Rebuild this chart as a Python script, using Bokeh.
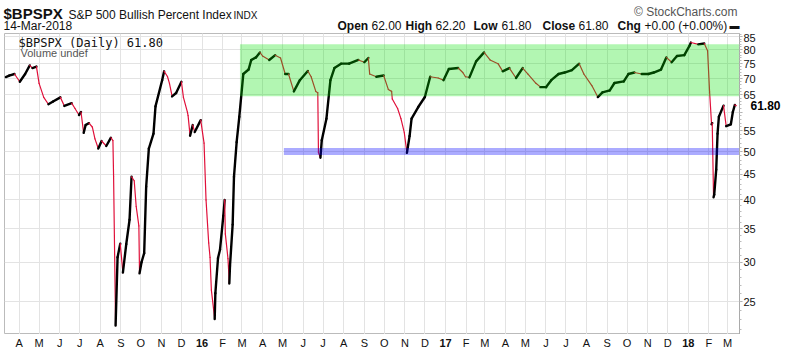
import pandas as pd
from bokeh.plotting import figure
from bokeh.layouts import column
from bokeh.models import (Range1d, FixedTicker, PrintfTickFormatter, Label, ColumnDataSource,
                          LogAxis, Grid)
from bokeh.core.properties import value
from bokeh.embed import file_html
from bokeh.resources import INLINE

# ---------------- data ----------------
dates = [
    "2015-03-12", "2015-03-17", "2015-03-25", "2015-04-02", "2015-04-10", "2015-04-17", "2015-04-21",
    "2015-04-27", "2015-05-01", "2015-05-08", "2015-05-15", "2015-05-22", "2015-06-02", "2015-06-08",
    "2015-06-19", "2015-06-24", "2015-06-30", "2015-07-03", "2015-07-07", "2015-07-10", "2015-07-15",
    "2015-07-20", "2015-07-24", "2015-07-29", "2015-08-03", "2015-08-10", "2015-08-17", "2015-08-20",
    "2015-08-21", "2015-08-24", "2015-08-27", "2015-08-31", "2015-09-04", "2015-09-09", "2015-09-14",
    "2015-09-17", "2015-09-21", "2015-09-24", "2015-09-28", "2015-09-29", "2015-10-02", "2015-10-06",
    "2015-10-09", "2015-10-13", "2015-10-20", "2015-10-23", "2015-11-02", "2015-11-05", "2015-11-10",
    "2015-11-13", "2015-11-17", "2015-11-23", "2015-12-01", "2015-12-04", "2015-12-10", "2015-12-11",
    "2015-12-14", "2015-12-18", "2015-12-21", "2015-12-30",
    "2016-01-04", "2016-01-07", "2016-01-11", "2016-01-13", "2016-01-15", "2016-01-20", "2016-01-21",
    "2016-01-25", "2016-01-28", "2016-02-02", "2016-02-04", "2016-02-05", "2016-02-09", "2016-02-11",
    "2016-02-12", "2016-02-16", "2016-02-18", "2016-02-22", "2016-02-26", "2016-03-03", "2016-03-11",
    "2016-03-15", "2016-03-22", "2016-03-28", "2016-04-01", "2016-04-11", "2016-04-20", "2016-04-28",
    "2016-05-05", "2016-05-10", "2016-05-18", "2016-05-27", "2016-06-08", "2016-06-13", "2016-06-20",
    "2016-06-23", "2016-06-24", "2016-06-27", "2016-06-29", "2016-07-06", "2016-07-12", "2016-07-18",
    "2016-07-28", "2016-08-09", "2016-08-23", "2016-09-01", "2016-09-07", "2016-09-09", "2016-09-19",
    "2016-09-30", "2016-10-07", "2016-10-12", "2016-10-13", "2016-10-21", "2016-10-26", "2016-10-31",
    "2016-11-04", "2016-11-08", "2016-11-11", "2016-11-21", "2016-12-01", "2016-12-09", "2016-12-21",
    "2016-12-29",
    "2017-01-06", "2017-01-20", "2017-01-27", "2017-01-31", "2017-02-06", "2017-02-16", "2017-02-28",
    "2017-03-09", "2017-03-21", "2017-03-28", "2017-04-07", "2017-04-17", "2017-04-27", "2017-05-05",
    "2017-05-17", "2017-05-24", "2017-06-01", "2017-06-09", "2017-06-20", "2017-06-29", "2017-07-10",
    "2017-07-21", "2017-07-28", "2017-08-09", "2017-08-18", "2017-08-25", "2017-09-05", "2017-09-12",
    "2017-09-26", "2017-10-03", "2017-10-12", "2017-10-23", "2017-11-02", "2017-11-10", "2017-11-21",
    "2017-11-29", "2017-12-07", "2017-12-15", "2017-12-26",
    "2018-01-03", "2018-01-05", "2018-01-16", "2018-01-25", "2018-01-30", "2018-02-02", "2018-02-05",
    "2018-02-06", "2018-02-08", "2018-02-09", "2018-02-12", "2018-02-14", "2018-02-16", "2018-02-23",
    "2018-02-27", "2018-03-06", "2018-03-09", "2018-03-12", "2018-03-14",
]
values = [
    70.5, 71.0, 71.5, 69.0, 71.5, 74.4, 73.5,
    74.0, 68.5, 64.2, 62.2, 63.0, 64.2, 61.7,
    62.5, 61.0, 59.2, 60.0, 54.5, 56.5, 57.0,
    56.0, 53.0, 50.7, 52.5, 51.3, 53.3, 52.6,
    44.6, 22.4, 30.7, 32.7, 28.6, 32.6, 36.5,
    44.5, 43.7, 38.8, 35.5, 28.5, 30.0, 31.3,
    42.5, 50.7, 54.3, 61.6, 69.5, 72.4, 70.7,
    68.5, 64.5, 65.5, 69.0, 64.2, 60.0, 59.0,
    53.8, 56.5, 54.7, 57.8,
    52.0, 40.0, 32.8, 30.7, 26.4, 23.1, 26.0,
    30.6, 31.8, 37.2, 40.0, 34.2, 30.5, 27.2,
    29.5, 35.7, 44.5, 52.2, 58.7, 71.5, 73.0,
    76.3, 77.2, 79.0, 77.7, 76.3, 78.0, 77.0,
    71.5, 71.5, 66.0, 69.5, 72.5, 70.6, 66.0,
    65.6, 49.8, 48.6, 52.7, 58.2, 69.5, 73.5,
    75.0, 75.0, 76.3, 75.5, 77.0, 71.5, 70.6,
    71.0, 66.6, 66.0, 63.7, 61.0, 58.2, 54.6,
    49.7, 53.7, 58.2, 61.4, 64.3, 70.6, 70.2,
    69.5,
    73.2, 73.5, 72.0, 70.6, 70.4, 75.8, 79.0,
    76.3, 75.0, 72.4, 73.5, 70.2, 73.5, 71.5,
    68.5, 67.3, 67.3, 69.5, 71.5, 72.0, 72.8,
    75.0, 71.5, 67.8, 64.3, 65.7, 66.3, 68.6,
    69.1, 71.5, 72.0, 71.5, 71.5, 72.0, 73.0,
    77.2, 75.5, 77.7, 78.0,
    81.5, 82.7, 82.0, 82.3, 79.6, 66.0, 56.7,
    57.0, 40.5, 41.0, 46.0, 54.3, 58.7, 61.8,
    56.2, 56.7, 60.0, 62.0, 61.8,
]

month_starts = list(pd.date_range("2015-04-01", "2018-03-01", freq="MS").strftime("%Y-%m-%d"))
month_labels = ["A", "M", "J", "J", "A", "S", "O", "N", "D",
                "16", "F", "M", "A", "M", "J", "J", "A", "S", "O", "N", "D",
                "17", "F", "M", "A", "M", "J", "J", "A", "S", "O", "N", "D",
                "18", "F", "M"]
y_ticks = [25, 30, 35, 40, 45, 50, 55, 60, 65, 70, 75, 80, 85]
y_minor = list(range(22, 87))

green_zone_start, green_zone_low, green_zone_high = "2016-02-27", 64.5, 82.0
blue_zone_start, blue_zone_low, blue_zone_high = "2016-05-03", 49.2, 50.8
range_start, range_end = "2015-03-10", "2018-03-19"
last_value = 61.80

quote_keys = ["Open", "High", "Low", "Close", "Chg"]
quote_vals = ["62.00", "62.20", "61.80", "61.80", "+0.00 (+0.00%)"]


def ms(d):
    return int(pd.Timestamp(d).value // 10**6)


FONT = "Liberation Sans"
x_end = ms(range_end)
W = 787
HEAD_H = 33
MAIN_H = 301
FOOT_H = 348 - HEAD_H - MAIN_H

# ---------------- header strip ----------------
h = figure(width=W, height=HEAD_H, x_range=Range1d(0, W), y_range=Range1d(HEAD_H, 0),
           title=None, x_axis_location=None, y_axis_location=None, output_backend="svg",
           toolbar_location=None, min_border=0, frame_align=False)
h.outline_line_color = None
h.grid.visible = False


def htext(xs, ys, texts, size="12px", bold=False, color="#111111", align="left", font=FONT):
    h.text(x=xs, y=ys, text=texts, text_font=value(font), text_font_size=size,
           text_font_style="bold" if bold else "normal", text_color=color,
           text_align=align, text_baseline="middle")


htext([3], [13], ["$BPSPX"], size="15px", bold=True)
htext([68], [14], ["S&P 500 Bullish Percent Index"])
htext([233], [14.8], ["INDX"], size="10px")
htext([3], [25], ["14-Mar-2018"])
htext([737], [11.7], ["© StockCharts.com"], color="#555555", align="right")
htext([337, 405, 473, 542, 617], [25.3] * 5, quote_keys, bold=True)
htext([371, 435, 501, 578, 644], [25.3] * 5, quote_vals)
htext([729], [25.3], ["▬"], size="10px")

# ---------------- main chart ----------------
p = figure(width=W, height=MAIN_H, x_axis_type="datetime", y_axis_type="log",
           y_axis_location="right", x_axis_location=None, title=None,
           x_range=Range1d(ms(range_start), x_end), y_range=Range1d(21.5, 86.2),
           output_backend="svg", toolbar_location=None, frame_align=False,
           min_border_left=4, min_border_right=48, min_border_top=0, min_border_bottom=0)
p.outline_line_color = "#bbbbbb"

xs = [ms(d) for d in dates]
colors = ["black" if b >= a else "#e0103a" for a, b in zip(values[:-1], values[1:])]
widths = [2.4 if b >= a else 1.2 for a, b in zip(values[:-1], values[1:])]
src = ColumnDataSource(dict(x0=xs[:-1], x1=xs[1:], y0=values[:-1], y1=values[1:],
                            color=colors, width=widths))
p.segment("x0", "y0", "x1", "y1", source=src, line_color="color", line_width="width",
          line_cap="round")

p.quad(left=ms(green_zone_start), right=x_end, bottom=green_zone_low, top=green_zone_high,
       fill_color="#00e000", fill_alpha=0.3, line_color=None)
p.quad(left=ms(blue_zone_start), right=x_end, bottom=blue_zone_low, top=blue_zone_high,
       fill_color="#0000ff", fill_alpha=0.33, line_color=None)

tick_ms = [ms(d) for d in month_starts]
p.add_layout(Grid(dimension=0, ticker=FixedTicker(ticks=tick_ms, minor_ticks=[]),
                  grid_line_color="#e3e3e3"))

ya = p.yaxis[0]
ya.ticker = FixedTicker(ticks=y_ticks, minor_ticks=y_minor)
ya.formatter = PrintfTickFormatter(format="%d")
ya.major_label_overrides = {60: ""}
ya.major_label_text_font = FONT
ya.major_label_text_font_size = "11px"
ya.major_label_text_color = "#111111"
ya.major_label_standoff = 1
ya.major_tick_out = 3
ya.major_tick_in = 0
ya.minor_tick_out = 2
ya.minor_tick_in = 0
ya.axis_line_color = "#aaaaaa"
ya.major_tick_line_color = "#aaaaaa"
ya.minor_tick_line_color = "#bbbbbb"
p.ygrid.grid_line_color = "#e3e3e3"

# last value tag, as a second right axis with a single tick
tag = LogAxis(ticker=FixedTicker(ticks=[last_value], minor_ticks=[]),
              major_label_overrides={last_value: f"{last_value:.2f}"},
              major_label_text_font=FONT, major_label_text_font_size="12px",
              major_label_text_font_style="bold", major_label_text_color="black",
              major_label_standoff=-8, major_tick_out=0, major_tick_in=0,
              minor_tick_out=0, minor_tick_in=0, axis_line_color=None,
              major_tick_line_color=None, minor_tick_line_color=None)
p.add_layout(tag, "right")

# legend text inside the frame (screen units from the frame's bottom-left)
p.add_layout(Label(x=14, y=MAIN_H - 9, x_units="screen", y_units="screen",
                   text="$BPSPX (Daily) 61.80", text_font="DejaVu Sans Mono",
                   text_font_size="12px", text_color="#111111", text_baseline="middle"))
p.add_layout(Label(x=16, y=MAIN_H - 19, x_units="screen", y_units="screen",
                   text="Volume undef", text_font=FONT, text_font_size="11px",
                   text_color="#555555", text_baseline="middle"))

# ---------------- month / year labels strip (shares the chart's x scale) ----------------
f = figure(width=W, height=FOOT_H, x_range=p.x_range, y_range=Range1d(FOOT_H, 0),
           title=None, x_axis_location=None, y_axis_location=None, output_backend="svg",
           toolbar_location=None, frame_align=False,
           min_border_left=4, min_border_right=48, min_border_top=0, min_border_bottom=0)
f.outline_line_color = None
f.grid.visible = False
mon_x = [t for t, lab in zip(tick_ms, month_labels) if not lab.isdigit()]
mon_t = [lab for lab in month_labels if not lab.isdigit()]
yr_x = [t for t, lab in zip(tick_ms, month_labels) if lab.isdigit()]
yr_t = [lab for lab in month_labels if lab.isdigit()]
f.text(x=mon_x, y=[8.5] * len(mon_x), text=mon_t, text_font=value(FONT), text_font_size="11px",
       text_color="#111111", text_align="center", text_baseline="middle")
f.text(x=yr_x, y=[8.5] * len(yr_x), text=yr_t, text_font=value(FONT), text_font_size="11px",
       text_font_style="bold", text_color="#111111", text_align="center", text_baseline="middle")

open("out.html", "w").write(file_html(column(h, p, f), INLINE))
